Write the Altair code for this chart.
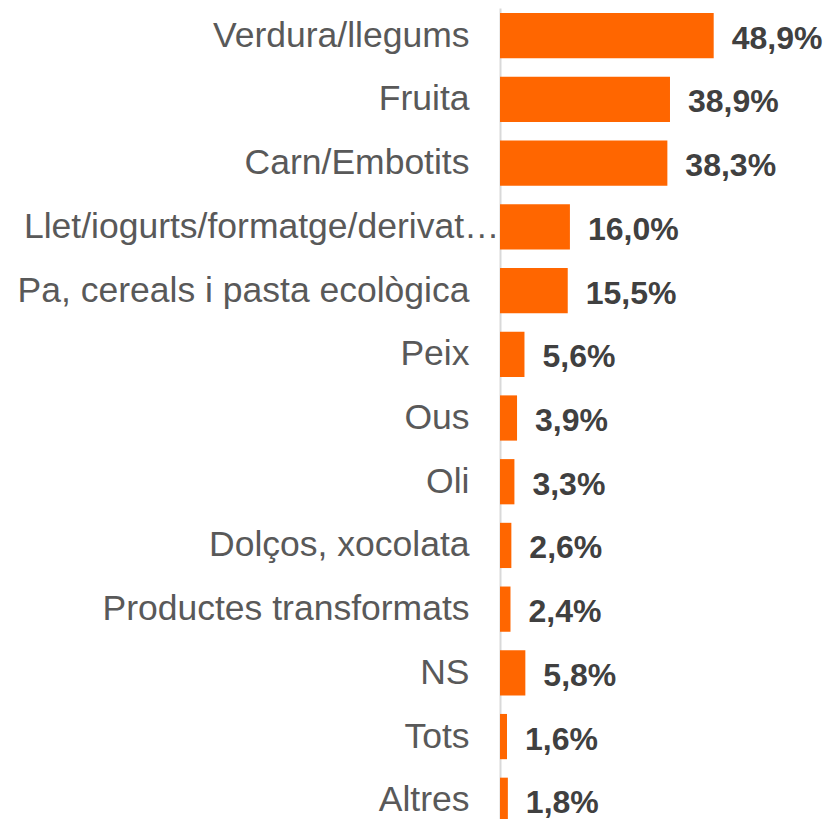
import altair as alt
import pandas as pd

categories = [
    "Verdura/llegums",
    "Fruita",
    "Carn/Embotits",
    "Llet/iogurts/formatge/derivat…",
    "Pa, cereals i pasta ecològica",
    "Peix",
    "Ous",
    "Oli",
    "Dolços, xocolata",
    "Productes transformats",
    "NS",
    "Tots",
    "Altres",
]
values = [48.9, 38.9, 38.3, 16.0, 15.5, 5.6, 3.9, 3.3, 2.6, 2.4, 5.8, 1.6, 1.8]

df = pd.DataFrame({
    "cat": categories,
    "val": values,
    "label": [f"{v:.1f}".replace(".", ",") + "%" for v in values],
})

y = alt.Y(
    "cat:N",
    sort=categories,
    scale=alt.Scale(paddingInner=0.29, paddingOuter=0.08),
    axis=alt.Axis(
        title=None,
        ticks=False,
        grid=False,
        domain=True,
        domainColor="#d9d9d9",
        domainWidth=2,
        labelFont="Liberation Sans",
        labelFontSize=35.5,
        labelColor="#595959",
        labelLimit=520,
        labelPadding={"condition": {"test": "datum.value === 'Llet/iogurts/formatge/derivat…'", "value": 1}, "value": 31},
    ),
)
x = alt.X("val:Q", scale=alt.Scale(domain=[0, 74.6], nice=False), axis=None)

bars = alt.Chart(df).mark_bar(color="#FF6600").encode(x=x, y=y)
text = alt.Chart(df).mark_text(
    align="left", baseline="middle", dx=18, dy=3,
    font="Liberation Sans", fontSize=32, fontWeight="bold", color="#404040",
).encode(x=x, y=y, text="label:N")

chart = (bars + text).properties(
    width=326, height=820,
    autosize=alt.AutoSizeParams(type="none"),
    padding={"left": 492, "top": 0, "right": 0, "bottom": 0},
).configure_view(stroke=None)

chart.save("out.html", embed_options={"renderer": "svg", "actions": False})
